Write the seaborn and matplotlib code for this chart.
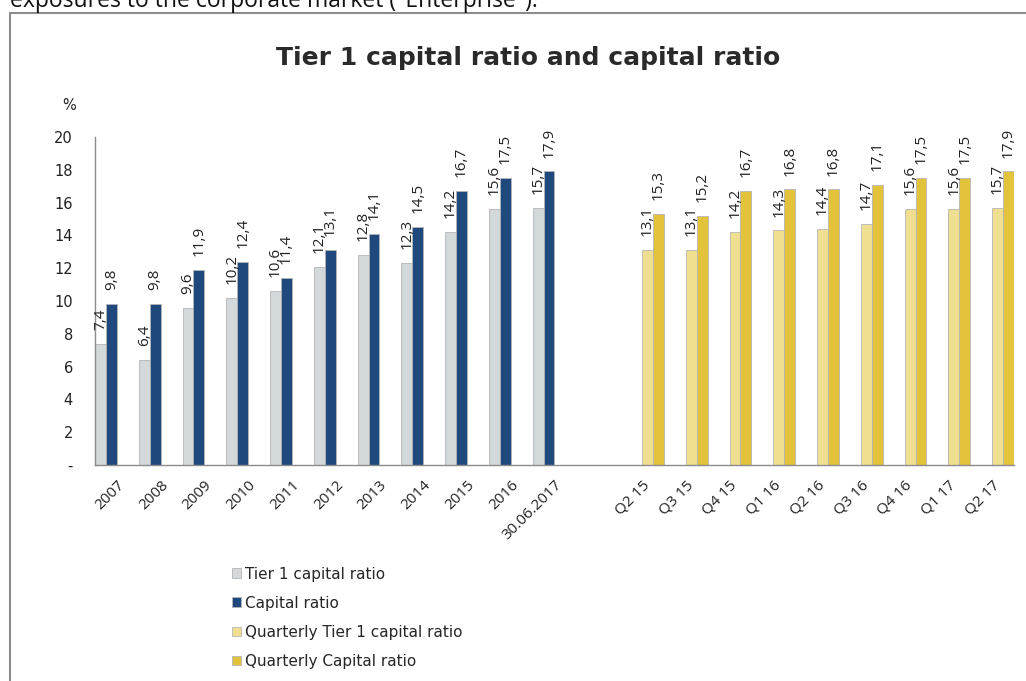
import numpy as np
import pandas as pd
import seaborn as sns
import matplotlib.pyplot as plt
from matplotlib.lines import Line2D
from matplotlib.patches import Patch
from matplotlib.transforms import ScaledTranslation

annual_cats = ['2007', '2008', '2009', '2010', '2011', '2012', '2013', '2014', '2015', '2016', '30.06.2017']
tier1 = [7.4, 6.4, 9.6, 10.2, 10.6, 12.1, 12.8, 12.3, 14.2, 15.6, 15.7]
capital = [9.8, 9.8, 11.9, 12.4, 11.4, 13.1, 14.1, 14.5, 16.7, 17.5, 17.9]

quarter_cats = ['Q2 15', 'Q3 15', 'Q4 15', 'Q1 16', 'Q2 16', 'Q3 16', 'Q4 16', 'Q1 17', 'Q2 17']
q_tier1 = [13.1, 13.1, 14.2, 14.3, 14.4, 14.7, 15.6, 15.6, 15.7]
q_capital = [15.3, 15.2, 16.7, 16.8, 16.8, 17.1, 17.5, 17.5, 17.9]

series = ['Tier 1 capital ratio', 'Capital ratio', 'Quarterly Tier 1 capital ratio', 'Quarterly Capital ratio']
colors = ['#d3d8db', '#1f497d', '#f0de91', '#e3c23c']

order = annual_cats + [' '] + quarter_cats

rows = []
for c, a, b in zip(annual_cats, tier1, capital):
    rows.append((c, series[0], a))
    rows.append((c, series[1], b))
for c, a, b in zip(quarter_cats, q_tier1, q_capital):
    rows.append((c, series[2], a))
    rows.append((c, series[3], b))
df = pd.DataFrame(rows, columns=['period', 'series', 'value'])

sns.set_style('white')
plt.rcParams['font.family'] = ['DejaVu Sans']

fig = plt.figure(figsize=(10.26, 6.81), dpi=100)
ax = fig.add_axes([95 / 1026, 1 - 465 / 681, 919 / 1026, 328 / 681])

sns.barplot(data=df, x='period', y='value', hue='series', order=order, hue_order=series,
            palette=colors, width=1.0, errorbar=None, edgecolor='#b5b5b5', linewidth=0.6,
            saturation=1, ax=ax, legend=False)

# rotated value labels above each bar, decimal comma
for cont in ax.containers:
    labels = [f'{v:.1f}'.replace('.', ',') for v in cont.datavalues]
    ax.bar_label(cont, labels=labels, rotation=90, padding=10, fontsize=11,
                 family='Open Sans', color='#222222')

ax.set_xlim(-0.5, len(order) - 0.5)
ax.set_ylim(0, 20)
ax.set_yticks(np.arange(0, 21, 2))
ax.set_yticklabels(['-'] + [str(v) for v in range(2, 21, 2)], fontsize=10.5, color='#222222')
ax.set_xticks(range(len(order)))
ax.set_xticklabels(order, rotation=45, ha='right', va='top', rotation_mode='anchor',
                   fontsize=11, family='Open Sans', color='#222222')
shift = ScaledTranslation(-2 / 100, 0, fig.dpi_scale_trans)
for lbl in ax.get_xticklabels():
    lbl.set_transform(lbl.get_transform() + shift)
ax.set_xticks(np.arange(-0.5, len(order), 1), minor=True)
ax.tick_params(axis='x', which='major', length=0, pad=9)
ax.tick_params(axis='x', which='minor', length=6, color='#8c8c8c', direction='out')
ax.tick_params(axis='y', length=5, color='#8c8c8c', direction='out', pad=11)
ax.set_xlabel('')
ax.set_ylabel('')
for s in ['top', 'right']:
    ax.spines[s].set_visible(False)
for s in ['left', 'bottom']:
    ax.spines[s].set_color('#8c8c8c')
    ax.spines[s].set_linewidth(1)

fig.text(62 / 1026, 1 - 106 / 681, '%', fontsize=10.5, color='#222222', va='center')
fig.text(528 / 1026, 1 - 58 / 681, 'Tier 1 capital ratio and capital ratio', fontsize=18,
         fontweight='bold', color='#2a2a2a', ha='center', va='center')
fig.text(10 / 1026, 1 - 7 / 681, 'exposures to the corporate market ("Enterprise").', fontsize=16.5,
         family='Open Sans', color='#111111', va='baseline')

fig.add_artist(Line2D([10 / 1026, 1], [1 - 13 / 681, 1 - 13 / 681], color='#8c8c8c', lw=1.5,
                      transform=fig.transFigure))
fig.add_artist(Line2D([10 / 1026, 10 / 1026], [0, 1 - 13 / 681], color='#8c8c8c', lw=1.5,
                      transform=fig.transFigure))

handles = [Patch(facecolor=c, edgecolor='#b5b5b5', linewidth=0.6) for c in colors]
fig.legend(handles, series, loc='upper left', bbox_to_anchor=(224 / 1026, 1 - 559 / 681),
           frameon=False, fontsize=11, handlelength=0.6, handleheight=0.6, handletextpad=0.25,
           labelspacing=0.92, borderpad=0)

fig.savefig('out.png', dpi=100)
